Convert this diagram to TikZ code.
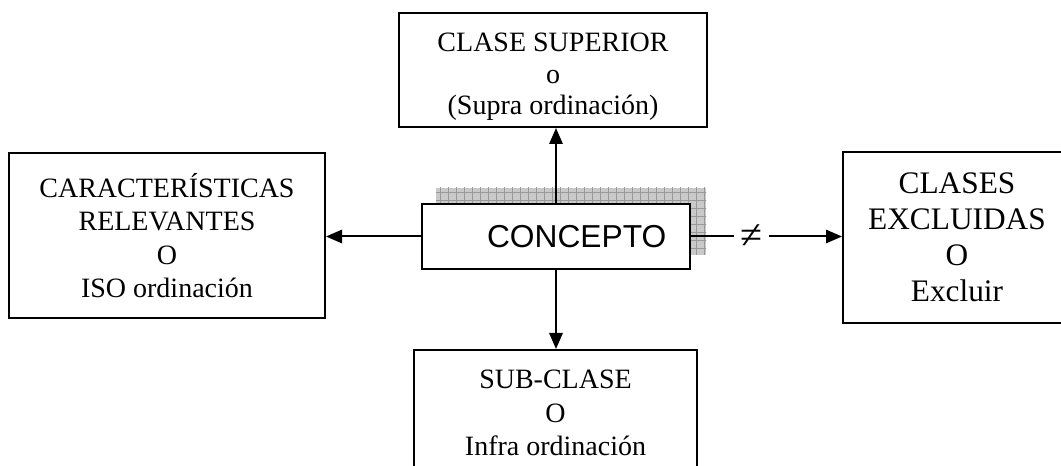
\documentclass[tikz,border=0pt]{standalone}
\usepackage{fontspec}
\setmainfont{Liberation Serif}
\newfontfamily\arialfont{Liberation Sans}
\usetikzlibrary{arrows.meta,calc,backgrounds}

\tikzset{
  caja/.style={draw, line width=1.5pt, align=center, inner sep=0pt,
    font=\fontsize{21}{25}\selectfont},
  flecha/.style={-{Triangle[length=12pt,width=10pt]}, line width=1.5pt}
}

\begin{document}
\begin{tikzpicture}[x=0.75pt,y=-0.75pt]
	\useasboundingbox (0,0) rectangle (1061,466);
	\clip (0,0) rectangle (1061,466);
	% cajas
	\node[caja, minimum width=231pt, minimum height=85.5pt,
		font=\fontsize{21}{23.5}\selectfont] (sup) at (553,70)
		{\rule{0pt}{24pt}CLASE SUPERIOR\\o\\(Supra ordinación)};
	\node[caja, minimum width=237pt, minimum height=123.75pt] (iso) at (167,235.5)
		{CARACTERÍSTICAS\\RELEVANTES\\O\\ISO ordinación};
	\node[caja, minimum width=171pt, minimum height=128.25pt,
		font=\fontsize{23.5}{27}\selectfont] (exc) at (957,237.5)
		{CLASES\\EXCLUIDAS\\O\\Excluir};
	\node[caja, minimum width=212.25pt, minimum height=94.5pt] (sub) at (555.5,413)
		{SUB-CLASE\\O\\Infra ordinación};
	\node[caja, fill=white, minimum width=201pt, minimum height=48.75pt,
		font=\arialfont\fontsize{23.8}{28}\selectfont] (concepto) at (556,236.5)
		{\hspace*{31pt}CONCEPTO};
	% sombra
	\begin{scope}[on background layer]
		\fill[gray!42] ($(concepto.south west)+(15,-15)$) rectangle ($(concepto.north east)+(15,-15)$);
		\clip ($(concepto.south west)+(15,-15)$) rectangle ($(concepto.north east)+(15,-15)$);
		\draw[gray!80, line width=0.5pt, step=6pt] (430,180) grid (720,260);
	\end{scope}
	% flechas
	\draw[flecha] (concepto.north) -- (concepto.north |- sup.south);
	\draw[flecha] (concepto.south) -- (concepto.south |- sub.north);
	\draw[flecha] (concepto.west) -- (concepto.west -| iso.east);
	\draw[flecha] (concepto.east) -- node[pos=0.4, fill=white, inner xsep=5pt, inner ysep=1pt,
		font=\fontsize{30}{30}\selectfont] {≠} (concepto.east -| exc.west);
\end{tikzpicture}
\end{document}
